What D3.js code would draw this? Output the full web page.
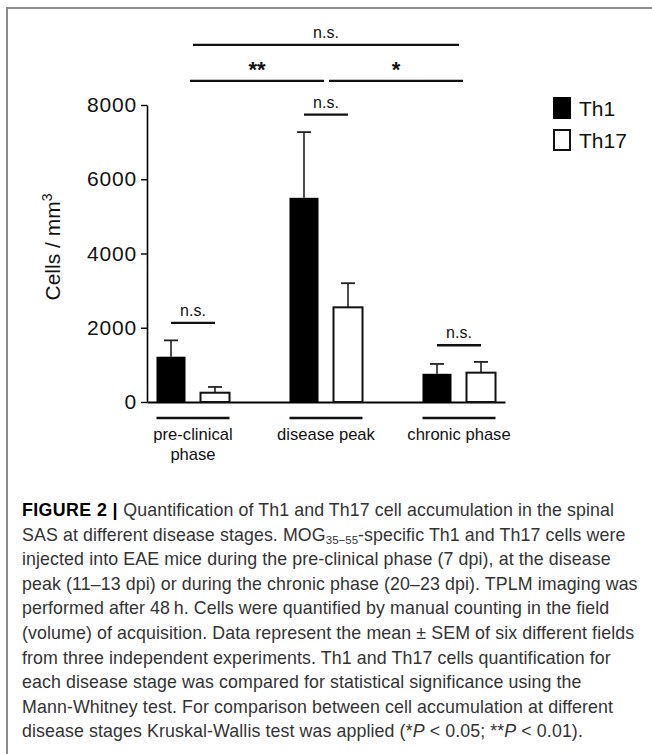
<!DOCTYPE html>
<html>
<head>
<meta charset="utf-8">
<script src="https://cdn.jsdelivr.net/npm/d3@7"></script>
<style>
  body { margin: 0; background: #fff; }
  text { font-family: "Liberation Sans", Arial, sans-serif; }
</style>
</head>
<body>
<script>
// Chart data
var categories = ["pre-clinical phase", "disease peak", "chronic phase"]
var catLabels = [["pre-clinical", "phase"], ["disease peak"], ["chronic phase"]]
var series = ["Th1", "Th17"]
var th1Mean = [1220, 5500, 760]
var th1Sem = [440, 1770, 265]
var th17Mean = [250, 2550, 790]
var th17Sem = [155, 650, 290]
var yTicks = [0, 2000, 4000, 6000, 8000]

// significance annotations (level in cells/mm3 units)
var withinSig = [
  {cat: "pre-clinical phase", label: "n.s.", level: 2130},
  {cat: "disease peak", label: "n.s.", level: 7740},
  {cat: "chronic phase", label: "n.s.", level: 1530}
]
var betweenSig = [
  {from: "pre-clinical phase", to: "disease peak", label: "**", level: 8650},
  {from: "disease peak", to: "chronic phase", label: "*", level: 8650},
  {from: "pre-clinical phase", to: "chronic phase", label: "n.s.", level: 9620}
]

var captionLines = [
  [{t: "FIGURE 2 | ", b: true}, {t: "Quantification of Th1 and Th17 cell accumulation in the spinal"}],
  [{t: "SAS at different disease stages. MOG"}, {t: "35\u221255", sub: true}, {t: "-specific Th1 and Th17 cells were"}],
  [{t: "injected into EAE mice during the pre-clinical phase (7 dpi), at the disease"}],
  [{t: "peak (11\u201313 dpi) or during the chronic phase (20\u201323 dpi). TPLM imaging was"}],
  [{t: "performed after 48\u2009h. Cells were quantified by manual counting in the field"}],
  [{t: "(volume) of acquisition. Data represent the mean \u00b1 SEM of six different fields"}],
  [{t: "from three independent experiments. Th1 and Th17 cells quantification for"}],
  [{t: "each disease stage was compared for statistical significance using the"}],
  [{t: "Mann-Whitney test. For comparison between cell accumulation at different"}],
  [{t: "disease stages Kruskal-Wallis test was applied (*"}, {t: "P", i: true}, {t: " < 0.05; **"}, {t: "P", i: true}, {t: " < 0.01)."}]
]

var data = categories.map(function(c, i) {
  return [
    {cat: c, s: "Th1", v: th1Mean[i], e: th1Sem[i]},
    {cat: c, s: "Th17", v: th17Mean[i], e: th17Sem[i]}
  ]
})

var W = 652, H = 754

var svg = d3.select("body")
  .append("svg")
    .attr("width", W)
    .attr("height", H)

// figure frame
svg.append("rect")
    .attr("x", 7).attr("y", 8)
    .attr("width", 700).attr("height", 800)
    .attr("fill", "none")
    .attr("stroke", "#8c8c8c")
    .attr("stroke-width", 2)

// Scales
var x0 = d3.scaleBand().domain(categories).range([147, 505]).paddingInner(0.451).paddingOuter(0.0714)
var x1 = d3.scaleBand().domain(series).range([0, x0.bandwidth()]).paddingInner(0.341)
var y = d3.scaleLinear().domain([0, 8000]).range([402, 105])

var cx = function(cat, s) { return x0(cat) + x1(s) + x1.bandwidth() / 2 }
var gc = function(cat) { return x0(cat) + x0.bandwidth() / 2 }

// Axes
var yAxis = d3.axisLeft(y).tickValues(yTicks).tickFormat(d3.format("d"))
    .tickSize(6).tickSizeOuter(0).tickPadding(4)
var gy = svg.append("g").attr("transform", "translate(147,0)").call(yAxis)
gy.select(".domain").attr("stroke-width", 1.6)
gy.selectAll(".tick line").attr("stroke-width", 1.4)
gy.selectAll(".tick text")
    .attr("font-size", 21)
    .attr("fill", "#111")
    .attr("font-family", "Liberation Sans, Arial, sans-serif")
    .attr("letter-spacing", 0.8)

var xAxis = d3.axisBottom(x0).tickSize(0).tickSizeOuter(0).tickFormat("")
var gx = svg.append("g").attr("transform", "translate(0," + y(0) + ")").call(xAxis)
gx.select(".domain").attr("stroke-width", 2)

// Y title
svg.append("text")
    .attr("transform", "translate(60,247) rotate(-90)")
    .attr("text-anchor", "middle")
    .attr("font-size", 21)
    .attr("fill", "#111")
    .text("Cells / mm")
  .append("tspan")
    .attr("dy", -8)
    .attr("font-size", 14)
    .text("3")

// Error bars (upper only)
var flat = d3.merge(data)
svg.selectAll(".err")
  .data(flat)
  .enter().append("line")
    .attr("x1", function(d) { return cx(d.cat, d.s) })
    .attr("x2", function(d) { return cx(d.cat, d.s) })
    .attr("y1", function(d) { return y(d.v) })
    .attr("y2", function(d) { return y(d.v + d.e) })
    .attr("stroke", "#222")
    .attr("stroke-width", 1.6)
svg.selectAll(".cap")
  .data(flat)
  .enter().append("line")
    .attr("x1", function(d) { return cx(d.cat, d.s) - 7 })
    .attr("x2", function(d) { return cx(d.cat, d.s) + 7 })
    .attr("y1", function(d) { return y(d.v + d.e) })
    .attr("y2", function(d) { return y(d.v + d.e) })
    .attr("stroke", "#222")
    .attr("stroke-width", 1.8)

// Bars
svg.selectAll(".bar")
  .data(flat)
  .enter().append("rect")
    .attr("x", function(d) { return x0(d.cat) + x1(d.s) })
    .attr("y", function(d) { return y(d.v) })
    .attr("width", x1.bandwidth())
    .attr("height", function(d) { return y(0) - y(d.v) })
    .attr("fill", function(d) { return d.s == "Th1" ? "#000" : "#fff" })
    .attr("stroke", "#111")
    .attr("stroke-width", function(d) { return d.s == "Th1" ? 0 : 2 })

// Group underlines and labels
svg.selectAll(".under")
  .data(categories)
  .enter().append("line")
    .attr("x1", function(d) { return x0(d) })
    .attr("x2", function(d) { return x0(d) + x0.bandwidth() })
    .attr("y1", 418).attr("y2", 418)
    .attr("stroke", "#111")
    .attr("stroke-width", 2.4)

categories.forEach(function(c, i) {
  var t = svg.append("text")
      .attr("x", gc(c))
      .attr("y", 440)
      .attr("text-anchor", "middle")
      .attr("font-size", 16.6)
      .attr("fill", "#111")
  catLabels[i].forEach(function(l, k) {
    t.append("tspan").attr("x", gc(c)).attr("dy", k == 0 ? 0 : 20).text(l)
  })
})

// Significance brackets
function sigLine(xa, xb, lv, label) {
  svg.append("line")
      .attr("x1", xa).attr("x2", xb)
      .attr("y1", y(lv)).attr("y2", y(lv))
      .attr("stroke", "#111")
      .attr("stroke-width", 2.4)
  var star = label.indexOf("*") >= 0
  svg.append("text")
      .attr("x", (xa + xb) / 2)
      .attr("y", y(lv) - (star ? 4 : 7))
      .attr("text-anchor", "middle")
      .attr("font-size", star ? 22 : 16)
      .attr("font-weight", star ? "bold" : "normal")
      .attr("fill", "#111")
      .text(label)
}
withinSig.forEach(function(s) {
  sigLine(cx(s.cat, "Th1"), cx(s.cat, "Th17"), s.level, s.label)
})
betweenSig.forEach(function(s, i) {
  var a = gc(s.from), b = gc(s.to)
  if (i == 0) { a -= 3; b -= 2 }
  if (i == 1) { a += 3; b += 4 }
  sigLine(a, b, s.level, s.label)
})

// Legend
var legend = svg.selectAll(".leg")
  .data(series)
  .enter().append("g")
    .attr("transform", function(d, i) { return "translate(553," + (97 + i * 32) + ")" })
legend.append("rect")
    .attr("x", function(d) { return d == "Th1" ? 0 : 1 })
    .attr("y", function(d) { return d == "Th1" ? 0 : 1 })
    .attr("width", function(d) { return d == "Th1" ? 18 : 16 })
    .attr("height", function(d) { return d == "Th1" ? 22 : 20 })
    .attr("fill", function(d) { return d == "Th1" ? "#000" : "#fff" })
    .attr("stroke", "#111")
    .attr("stroke-width", function(d) { return d == "Th1" ? 0 : 2 })
legend.append("text")
    .attr("x", 26)
    .attr("y", 19)
    .attr("font-size", 21)
    .attr("fill", "#111")
    .text(function(d) { return d })

// Caption
var cap = svg.append("g").attr("fill", "#333").attr("font-size", 17.8).attr("letter-spacing", 0.1)
captionLines.forEach(function(parts, i) {
  var t = cap.append("text").attr("x", 22).attr("y", 516 + i * 24.6)
  parts.forEach(function(p) {
    var ts = t.append("tspan").text(p.t)
    if (p.b) ts.attr("font-weight", "bold").attr("fill", "#000").attr("letter-spacing", 0.4)
    if (p.i) ts.attr("font-style", "italic")
    if (p.sub) {
      ts.attr("font-size", 11.5).attr("baseline-shift", "-3").attr("letter-spacing", 0)
    }
  })
})
</script>
</body>
</html>
